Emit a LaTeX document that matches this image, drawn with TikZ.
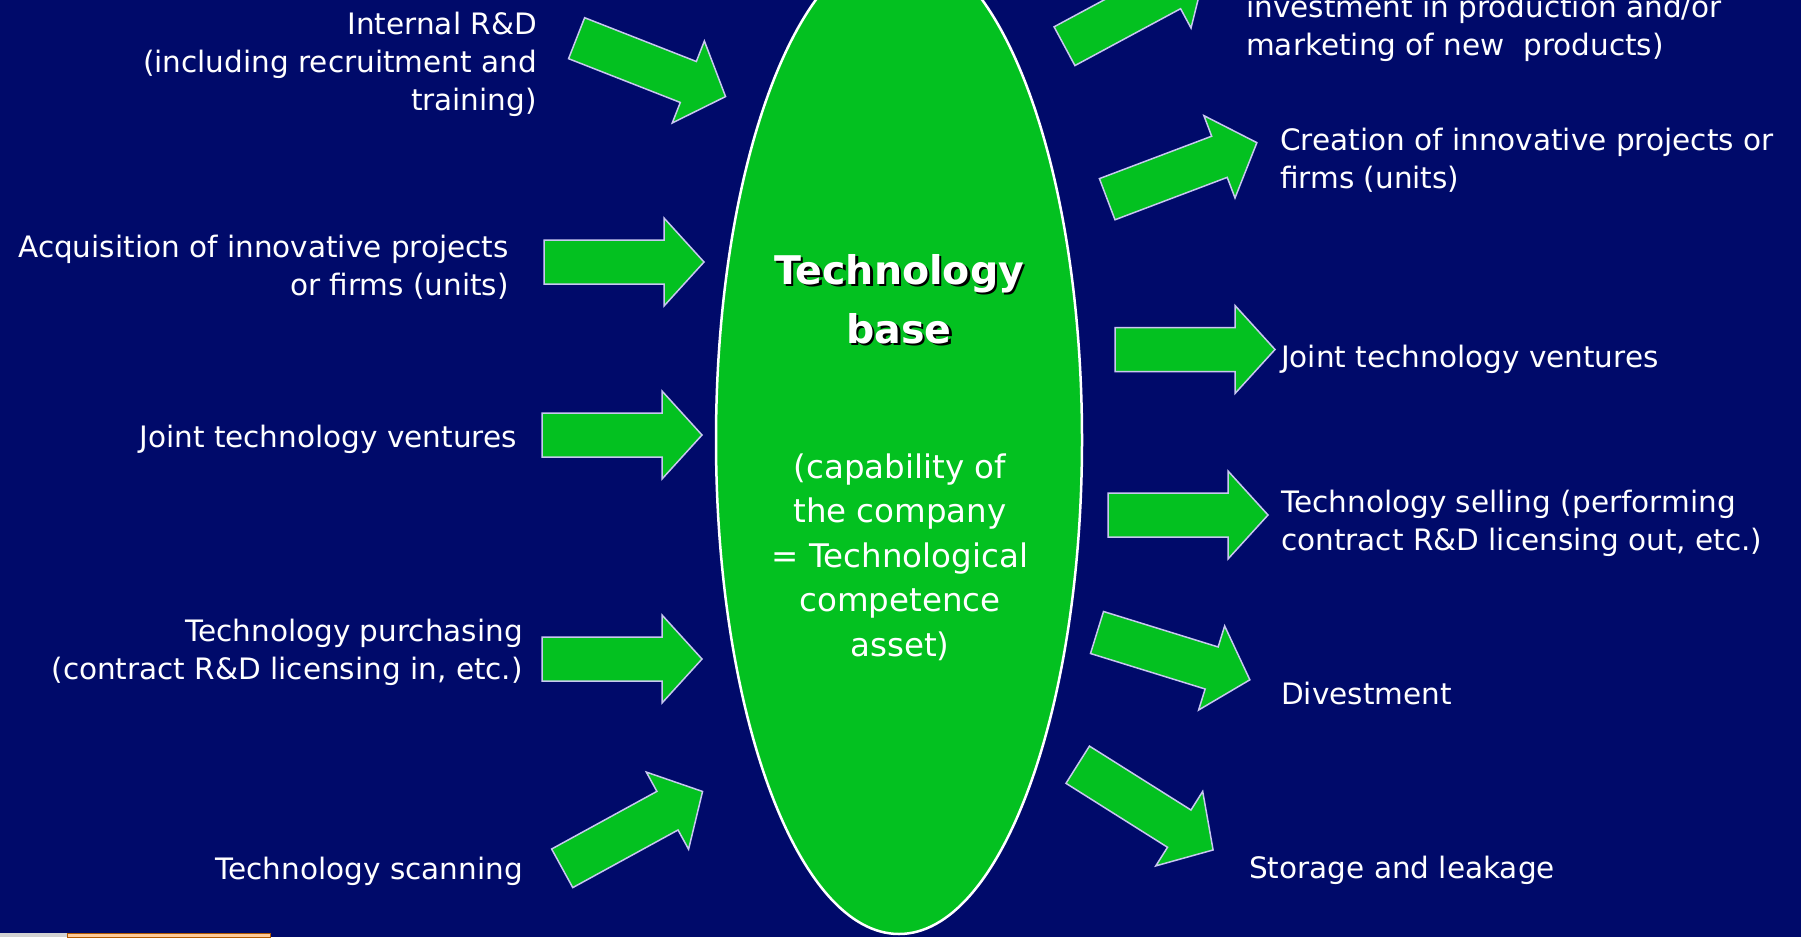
\documentclass[tikz,border=0pt]{standalone}
\usepackage{fontspec}
\setmainfont{DejaVu Sans}
\usepackage{tikz}
\usetikzlibrary{shapes.geometric}
\definecolor{navy}{RGB}{0,10,106}
\definecolor{leafgreen}{RGB}{3,193,32}
\definecolor{lavender}{RGB}{200,200,240}

\tikzset{
  blockarrow/.style={fill=leafgreen, draw=lavender, line width=1.5pt, line join=miter},
  sidetext/.style={text=white, inner sep=0pt, font=\fontsize{29.5}{38}\selectfont},
  lefttext/.style={sidetext, anchor=base east, align=right},
  righttext/.style={sidetext, anchor=base west, align=left},
  basebody/.style={ellipse, fill=leafgreen, draw=white, line width=2.5pt,
    minimum width=366pt, minimum height=988pt, inner sep=0pt},
  titletext/.style={inner sep=0pt, anchor=base, align=center,
    font=\fontsize{39.5}{59}\selectfont\bfseries},
  captext/.style={text=white, inner sep=0pt, anchor=base, align=center,
    font=\fontsize{32.5}{44.5}\selectfont}
}

\begin{document}
\begin{tikzpicture}[x=1pt, y=-1pt]
  \useasboundingbox (0,0) rectangle (1801,937);
  \clip (0,0) rectangle (1801,937);
  \fill[navy] (0,0) rectangle (1801,937);
  \fill[gray!35] (0,933) rectangle (67,937);
  \filldraw[fill=orange!40!white, draw=orange!70!black] (67,933.5) rectangle (270,937);

  \node[basebody] (base) at (899,440) {};
  \node[titletext, text=black] (titleshadow) at (901.5,345.5) {Technology\\base};
  \node[titletext, text=white] (title) at (899,343) {Technology\\base};
  \node[captext] (capability) at (900,656)
    {(capability of\\the company\\= Technological\\competence\\asset)};

  \foreach \x/\y/\a in {576.6/38.2/-21.4, 544/262/0, 542/435/0, 542/659/0, 562.2/868.3/28.7,
                        1064.5/46.2/28.3, 1107.2/199.2/20.7, 1115/349.5/0, 1108/515/0,
                        1097/632.5/-17.2, 1077.7/764.7/-32.2} {
    \begin{scope}[shift={(\x,\y)}, rotate=\a]
      \filldraw[blockarrow] (0,-22) -- (120,-22) -- (120,-44) -- (160,0)
        -- (120,44) -- (120,22) -- (0,22) -- cycle;
    \end{scope}
  }

  \node[lefttext] (internal) at (537,110) {Internal R\&D\\(including recruitment and\\training)};
  \node[lefttext] (acquisition) at (509,295) {Acquisition of innovative projects\\or firms (units)};
  \node[lefttext] (jointin) at (517,447) {Joint technology ventures};
  \node[lefttext] (purchasing) at (523,679) {Technology purchasing\\(contract R\&D licensing in, etc.)};
  \node[lefttext] (scanning) at (523,879) {Technology scanning};

  \node[righttext] (investment) at (1246,55) {investment in production and/or\\marketing of new\ \ products)};
  \node[righttext] (creation) at (1280,188) {Creation of innovative projects or\\firms (units)};
  \node[righttext] (jointout) at (1281,367) {Joint technology ventures};
  \node[righttext] (selling) at (1281,550) {Technology selling (performing\\contract R\&D licensing out, etc.)};
  \node[righttext] (divestment) at (1281,704) {Divestment};
  \node[righttext] (storage) at (1249,878) {Storage and leakage};
\end{tikzpicture}
\end{document}
